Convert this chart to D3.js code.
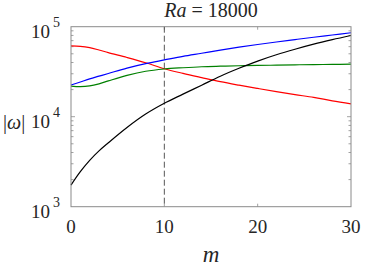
<!DOCTYPE html>
<html>
<head>
<style>
body { margin: 0; background: #fff; }
</style>
</head>
<body>
<div id="container"></div>
<script src="https://d3js.org/d3.v7.min.js"></script>
<script>
const width = 374, height = 276;
const margin = {top: 26.7, right: 23, bottom: 69.3, left: 71};
const serif = "'Liberation Serif', 'Times New Roman', Times, 'DejaVu Serif', serif";

// m values and |omega| for each branch
const mVals = [0, 1, 2, 3, 4, 6, 8, 10, 12, 14, 16, 18, 20, 22, 24, 26, 28, 30];
const redVals = [61100, 60500, 58500, 55100, 51500, 45500, 39800, 34100, 30300, 27200, 24500, 22400, 20600, 19000, 17600, 16400, 15000, 13900];
const blueVals = [22500, 24300, 26300, 28200, 30200, 34700, 38900, 42700, 46800, 50700, 55000, 59200, 63400, 67600, 71900, 76400, 80900, 85700];
const greenVals = [21900, 21600, 22000, 23200, 25000, 28800, 32000, 33900, 35000, 35900, 36400, 36800, 37100, 37400, 37700, 37900, 38100, 38300];
const blackVals = [1740, 2450, 3270, 4170, 5130, 7590, 10700, 14100, 17800, 22400, 28200, 34500, 41500, 48750, 56200, 64000, 71800, 79800];

const xTicks = [0, 10, 20, 30];
const yDecades = [3, 4, 5];
const markM = 10;
const titleMain = "Ra";
const titleRest = " = 18000";

const series = [
  {name: "red", color: "#ff0000", vals: redVals},
  {name: "blue", color: "#0000ff", vals: blueVals},
  {name: "green", color: "#008000", vals: greenVals},
  {name: "black", color: "#000000", vals: blackVals}
];

const svg = d3.select("#container").append("svg")
  .attr("width", width).attr("height", height);

const x = d3.scaleLinear().domain([0, 30]).range([margin.left, width - margin.right]);
const y = d3.scaleLog().domain([1e3, 1e5]).range([height - margin.bottom, margin.top]);

const axisColor = "#8a8a8a";
const textColor = "#262626";

// minor/major ticks on left and right, inside the box
const minor = [];
for (let k = 3; k < 5; k++) for (let j = 2; j <= 9; j++) minor.push(j * Math.pow(10, k));

const g = svg.append("g");
[x(0), x(30)].forEach((x0, i) => {
  const dir = i === 0 ? 1 : -1;
  g.selectAll(null).data(minor).enter().append("line")
    .attr("x1", x0).attr("x2", x0 + dir * 2.5)
    .attr("y1", d => y(d)).attr("y2", d => y(d))
    .attr("stroke", axisColor).attr("stroke-width", 0.8);
  g.append("line")
    .attr("x1", x0).attr("x2", x0 + dir * 4)
    .attr("y1", y(1e4)).attr("y2", y(1e4))
    .attr("stroke", axisColor).attr("stroke-width", 0.8);
});
[y(1e3), y(1e5)].forEach((y0, i) => {
  const dir = i === 0 ? -1 : 1;
  g.selectAll(null).data(xTicks.slice(1, 3)).enter().append("line")
    .attr("x1", d => x(d)).attr("x2", d => x(d))
    .attr("y1", y0).attr("y2", y0 + dir * 3)
    .attr("stroke", axisColor).attr("stroke-width", 0.8);
});

// dashed marker
svg.append("line")
  .attr("x1", x(markM)).attr("x2", x(markM))
  .attr("y1", y(1e5)).attr("y2", y(1e3))
  .attr("stroke", "#444").attr("stroke-width", 0.9)
  .attr("stroke-dasharray", "6,3");

// curves
const line = d3.line()
  .x((d, i) => x(mVals[i]))
  .y(d => y(d))
  .curve(d3.curveCatmullRom.alpha(0.5));

svg.selectAll(".curve").data(series).enter().append("path")
  .attr("class", "curve")
  .attr("fill", "none")
  .attr("stroke", d => d.color)
  .attr("stroke-width", 1.2)
  .attr("d", d => line(d.vals));

// box
svg.append("rect")
  .attr("x", x(0)).attr("y", y(1e5))
  .attr("width", x(30) - x(0)).attr("height", y(1e3) - y(1e5))
  .attr("fill", "none").attr("stroke", axisColor).attr("stroke-width", 1);

function txt(xp, yp, size) {
  return svg.append("text")
    .attr("x", xp).attr("y", yp)
    .attr("font-family", serif)
    .attr("font-size", size)
    .attr("fill", textColor);
}

// x tick labels
xTicks.forEach(d => {
  txt(x(d), y(1e3) + 26.5, 19).attr("text-anchor", "middle").text(d);
});

// y tick labels 10^k
yDecades.forEach(k => {
  const ty = y(Math.pow(10, k));
  txt(50, ty + 11.6, 19).attr("text-anchor", "end").text("10");
  txt(53, ty + 0.5, 14).text(k);
});

// y label |omega|
const yl = txt(3, 129, 20);
yl.append("tspan").text("|");
yl.append("tspan").attr("font-style", "italic").text("ω");
yl.append("tspan").text("|");

// x label
txt(x(15), 262, 23).attr("text-anchor", "middle").attr("font-style", "italic").text("m");

// title
const t = txt(x(15), 17, 20).attr("text-anchor", "middle");
t.append("tspan").attr("font-style", "italic").text(titleMain);
t.append("tspan").text(titleRest);
</script>
</body>
</html>
